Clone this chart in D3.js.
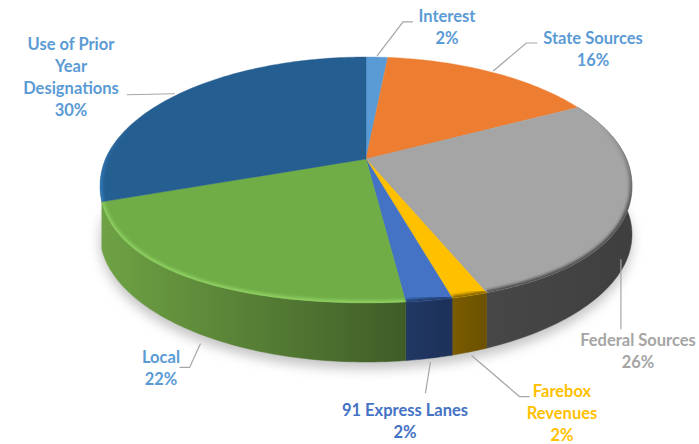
<!DOCTYPE html>
<html>
<head>
<meta charset="utf-8">
<script src="https://cdnjs.cloudflare.com/ajax/libs/d3/7.8.5/d3.min.js"></script>
<style>
    html, body { margin: 0; padding: 0; background: #fff; }
    text { font-family: Lato, "Open Sans", sans-serif; font-weight: 700; font-size: 16.5px; text-anchor: middle; }
</style>
</head>
<body>
<div id="chart"></div>
<script>
const categories = ['Interest', 'State Sources', 'Federal Sources', 'Farebox Revenues', '91 Express Lanes', 'Local', 'Use of Prior Year Designations'];
const values = [1.6, 15.8, 26.45, 1.85, 2.35, 21.95, 30];
const labelLines = [['Interest'], ['State Sources'], ['Federal Sources'], ['Farebox', 'Revenues'], ['91 Express Lanes'], ['Local'], ['Use of Prior', 'Year', 'Designations']];

const faceColors = ['#5b9bd5', '#ed7d31', '#a5a5a5', '#ffc000', '#4472c4', '#70ad47', '#255e91'];
const labelColors = ['#5b9bd5', '#5b9bd5', '#a5a5a5', '#ffc000', '#4472c4', '#5b9bd5', '#5b9bd5'];
const rimColors = ['#5b9bd5', '#ed7d31', '#4a4a4a', '#7f6000', '#1f3864', '#8fd062', '#3583c8'];
const wallStops = [
    ['#37668f', '#37668f'],
    ['#8f4b1d', '#8f4b1d'],
    ['#474747', '#3f3f3f'],
    ['#7a5c00', '#6b5100'],
    ['#203864', '#1d3159'],
    ['#6ea244', '#3f5c27'],
    ['#2a72b5', '#2a72b5']
];

const width = 699;
const height = 444;
const tilt = -0.2; // perspective, back of the pie is smaller than the front
const depth = 50;
const bevel = 9; // the rounded edge eats into the front of the top face
const sag = 3; // and lets it hang a little lower towards the sides

// leader line and label placement relative to the slice,
// [start dx, start dy, elbow dx, elbow dy, end dx, end dy, text x, first baseline]
const leaders = [
    [0, 0, 26, -34, 10, 0, 447, 22],
    [0, 0, 33, -28, 11, 0, 593, 44],
    [-12, 3, 0, 70, 0, 0, 638, 346],
    [0, 0, 48, 41, 10, 0, 562, 397],
    [0, 0, -5, 31, 0, 0, 405, 416],
    [6, 7, -11, 24, -10, 0, 161, 363],
    [0, 0, -48, 1, 0, 0, 71, 50]
];

const x = d3.scaleLinear().domain([-1, 1]).range([366 - 260.6, 366 + 260.6]);
const y = d3.scaleLinear().domain([-1, 1]).range([159 - 122.4, 159 + 122.4]);

// angle on the pie to a point on the picture
function project(angle, radius, drop) {
    const u = Math.sin(angle) * radius;
    const v = -Math.cos(angle) * radius;
    const w = 1 + tilt * v;
    return [x(u / w), y(v / w) + (drop || 0)];
}

function rimPoints(a0, a1, radius, drop) {
    const n = Math.max(2, Math.ceil((a1 - a0) / 0.02));
    return d3.range(n + 1).map(function (i) {
        return project(a0 + (a1 - a0) * i / n, radius, drop);
    });
}

// top edge of the face, following the rounded front
function facePoints(a0, a1) {
    const n = Math.max(2, Math.ceil((a1 - a0) / 0.02));
    return d3.range(n + 1).map(function (i) {
        const a = a0 + (a1 - a0) * i / n;
        const v = Math.max(0, -Math.cos(a));
        return project(a, 1, sag * Math.sin(Math.PI * v) - bevel * Math.pow(v, 5));
    });
}

const line = d3.line();
const pie = d3.pie().sort(null);
const slices = pie(values);
const percent = d3.format('.0f');

const svg = d3.select('#chart').append('svg')
    .attr('width', width)
    .attr('height', height)
    .style('display', 'block');

const defs = svg.append('defs');

defs.append('filter').attr('id', 'shadowBlur')
    .attr('x', '-20%').attr('y', '-20%').attr('width', '140%').attr('height', '140%')
    .append('feGaussianBlur').attr('stdDeviation', 6);

defs.append('filter').attr('id', 'rimBlur')
    .attr('x', '-20%').attr('y', '-20%').attr('width', '140%').attr('height', '140%')
    .append('feGaussianBlur').attr('stdDeviation', 1.6);

// Soft shadow under the pie
svg.append('path')
    .attr('d', line(rimPoints(0, 2 * Math.PI, 1, depth + 7)) + 'Z')
    .attr('fill', '#c4c4c4')
    .attr('filter', 'url(#shadowBlur)');

// Walls first, the top face covers whatever is behind it. Only slices that reach the front have one.
slices.forEach(function (d, i) {
    if (d.startAngle > Math.PI || d.endAngle < Math.PI / 2) {
        return;
    }
    const top = facePoints(d.startAngle, d.endAngle);
    const bottom = rimPoints(d.startAngle, d.endAngle, 1, depth).reverse();
    const grad = defs.append('linearGradient')
        .attr('id', 'wall' + i)
        .attr('gradientUnits', 'userSpaceOnUse')
        .attr('x1', d3.min(top, function (p) { return p[0]; }))
        .attr('x2', d3.max(top, function (p) { return p[0]; }))
        .attr('y1', 0)
        .attr('y2', 0);
    grad.append('stop').attr('offset', 0).attr('stop-color', wallStops[i][0]);
    grad.append('stop').attr('offset', 1).attr('stop-color', wallStops[i][1]);
    svg.append('path')
        .attr('d', line(top.concat(bottom)) + 'Z')
        .attr('fill', 'url(#wall' + i + ')')
        .attr('stroke', 'url(#wall' + i + ')')
        .attr('stroke-width', 0.5);
});

// Top face and its rounded edge
slices.forEach(function (d, i) {
    const edge = facePoints(d.startAngle, d.endAngle);
    const outline = line([[x(0), y(0)]].concat(edge)) + 'Z';
    defs.append('clipPath').attr('id', 'face' + i).append('path').attr('d', outline);

    svg.append('path')
        .attr('d', outline)
        .attr('fill', faceColors[i])
        .attr('stroke', faceColors[i])
        .attr('stroke-width', 0.4);

    const grad = defs.append('linearGradient')
        .attr('id', 'rim' + i)
        .attr('gradientUnits', 'userSpaceOnUse')
        .attr('x1', 0).attr('x2', 0)
        .attr('y1', 125).attr('y2', 215);
    grad.append('stop').attr('offset', 0).attr('stop-color', rimColors[i]).attr('stop-opacity', 0);
    grad.append('stop').attr('offset', 1).attr('stop-color', rimColors[i]).attr('stop-opacity', 1);

    svg.append('g')
        .attr('clip-path', 'url(#face' + i + ')')
        .append('path')
        .attr('d', line(edge))
        .attr('fill', 'none')
        .attr('stroke', 'url(#rim' + i + ')')
        .attr('stroke-width', 5)
        .attr('filter', 'url(#rimBlur)');
});

// Leader lines and labels
slices.forEach(function (d, i) {
    const mid = (d.startAngle + d.endAngle) / 2;
    const front = Math.cos(mid) < 0;
    const anchor = project(mid, 1.015, front ? depth + 1 : 0);
    const l = leaders[i];
    const start = [anchor[0] + l[0], anchor[1] + l[1]];
    const elbow = [start[0] + l[2], start[1] + l[3]];
    const end = [elbow[0] + l[4], elbow[1] + l[5]];

    svg.append('path')
        .attr('d', line([start, elbow, end]))
        .attr('fill', 'none')
        .attr('stroke', '#a6a6a6')
        .attr('stroke-width', 1.2);

    const rows = labelLines[i].concat([percent(values[i]) + '%']);
    svg.append('g').selectAll('text')
        .data(rows)
        .enter()
        .append('text')
        .attr('x', l[6])
        .attr('y', function (r, k) { return l[7] + k * 22; })
        .attr('fill', labelColors[i])
        .text(function (r) { return r; });
});
</script>
</body>
</html>
